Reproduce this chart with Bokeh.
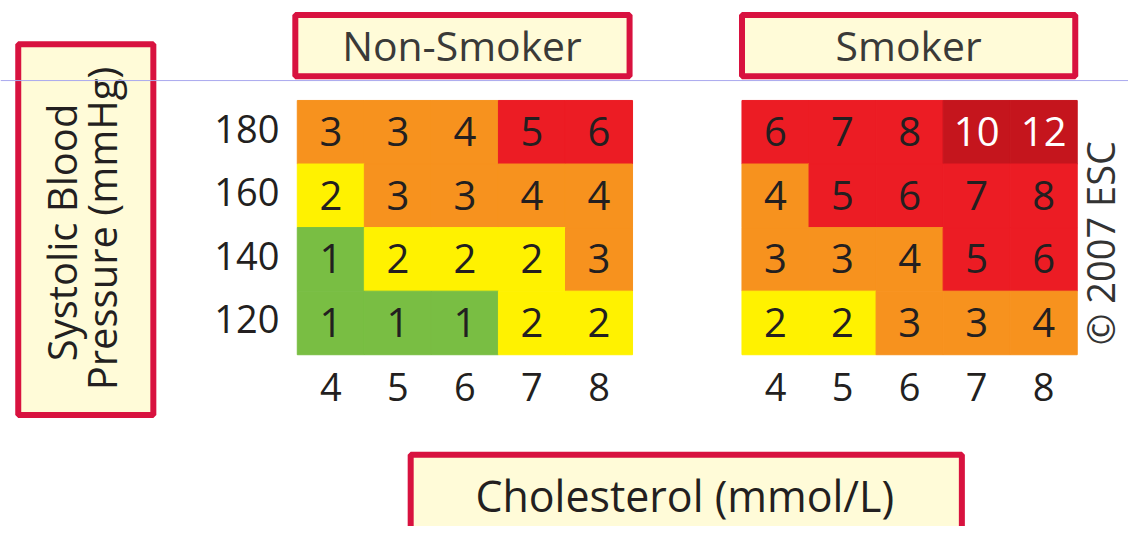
import math
from bokeh.plotting import figure
from bokeh.models import ColumnDataSource, Range1d, Span
from bokeh.core.properties import value
from bokeh.embed import file_html
from bokeh.resources import INLINE

# ---------------- data ----------------
CHOLESTEROL = [4, 5, 6, 7, 8]            # mmol/L (columns)
SBP = [180, 160, 140, 120]               # mmHg (rows, top to bottom)
NON_SMOKER = [[3, 3, 4, 5, 6],
              [2, 3, 3, 4, 4],
              [1, 2, 2, 2, 3],
              [1, 1, 1, 2, 2]]
SMOKER = [[6, 7, 8, 10, 12],
          [4, 5, 6, 7, 8],
          [3, 3, 4, 5, 6],
          [2, 2, 3, 3, 4]]
PANELS = ["Non-Smoker", "Smoker"]
X_TITLE = "Cholesterol (mmol/L)"
Y_TITLE = ["Systolic Blood", "Pressure (mmHg)"]
CREDIT = "\u00a9 2007 ESC"

# ---------------- layout (design units: a 1144 x 542 sheet) ----------------
W, H = 1128, 526
SHEET_W, SHEET_H = 1144, 542
FS = 0.975                # font scale, sheet -> figure
PX_CHOL = 68.0            # sheet pixels per 1 mmol/L
PX_MMHG = 65.5 / 20.0     # sheet pixels per 1 mmHg
X0_PX, Y0_PX = 335.0, 135.75   # sheet position of the (4 mmol/L, 180 mmHg) cell centre
SMOKER_SHIFT = (752 - 301) / PX_CHOL   # gap between the two panels, in mmol/L
BASE_CORR = 0.39          # baseline correction (fraction of font size)


def dx(px):
    return CHOLESTEROL[0] + (px - X0_PX) / PX_CHOL


def dy(py):
    return SBP[0] + (Y0_PX - py) / PX_MMHG


def fsz(px):
    return f"{px * FS:.1f}px"


FONT = value("Open Sans")
CRIMSON = "#D8123F"
CREAM = "#FFFBD8"
INK = "#231F20"


def risk_color(v):
    if v <= 1:
        return "#79BE43"
    if v == 2:
        return "#FFF200"
    if v <= 4:
        return "#F7921E"
    if v <= 8:
        return "#EC1C24"
    return "#C5151D"


p = figure(width=W, height=H,
           x_range=Range1d(dx(0), dx(SHEET_W)), y_range=Range1d(dy(SHEET_H), dy(0)),
           x_axis_type=None, y_axis_type=None,
           output_backend="svg", toolbar_location=None, min_border=0)
p.grid.visible = False
p.outline_line_color = None
p.background_fill_color = "white"
p.border_fill_color = "white"

# ---------------- cells ----------------
CELL_FONT = 41
xs, ys, vals, cols, tcols = [], [], [], [], []
for shift, table in [(0.0, NON_SMOKER), (SMOKER_SHIFT, SMOKER)]:
    for i, s in enumerate(SBP):
        for j, c in enumerate(CHOLESTEROL):
            v = table[i][j]
            xs.append(c + shift)
            ys.append(s)
            vals.append(str(v))
            cols.append(risk_color(v))
            tcols.append("white" if v >= 10 else INK)
text_dy = (15.5 - BASE_CORR * CELL_FONT) / PX_MMHG
cells = ColumnDataSource(dict(x=xs, y=ys, ty=[y - text_dy for y in ys],
                              v=vals, color=cols, tcolor=tcols))
p.rect(x="x", y="y", width=1, height=20, fill_color="color", line_color="color",
       line_width=1, source=cells)
p.text(x="x", y="ty", text="v", text_color="tcolor", text_font=FONT,
       text_font_size=fsz(CELL_FONT), text_align="center", text_baseline="alphabetic",
       source=cells)

# ---------------- tick labels ----------------
TICK_FONT = 39
tick_dy = (11.5 - BASE_CORR * TICK_FONT) / PX_MMHG
p.text(x=[dx(283)] * len(SBP), y=[s - tick_dy for s in SBP],
       text=[str(s) for s in SBP], text_font=FONT, text_font_size=fsz(TICK_FONT),
       text_color=INK, text_align="right", text_baseline="alphabetic")
bx = CHOLESTEROL + [c + SMOKER_SHIFT for c in CHOLESTEROL]
p.text(x=bx, y=[dy(413 - BASE_CORR * TICK_FONT)] * len(bx),
       text=[str(c) for c in CHOLESTEROL] * 2,
       text_font=FONT, text_font_size=fsz(TICK_FONT), text_color=INK,
       text_align="center", text_baseline="alphabetic")

# ---------------- panel title boxes ----------------
left_edge = CHOLESTEROL[0] - 0.5
right_edge = CHOLESTEROL[-1] + 0.5
box_l = [left_edge - 2 / PX_CHOL, left_edge + SMOKER_SHIFT]
box_r = [right_edge - 3 / PX_CHOL, right_edge + SMOKER_SHIFT - 2 / PX_CHOL]
p.quad(left=box_l, right=box_r, top=[dy(15)] * 2, bottom=[dy(78)] * 2,
       fill_color=CREAM, line_color=CRIMSON, line_width=6)
PANEL_FONT = 42
p.text(x=[dx(468), dx(921)], y=[dy(62 - BASE_CORR * PANEL_FONT)] * 2, text=PANELS,
       text_font=FONT, text_font_size=fsz(PANEL_FONT), text_color="#3A3A38",
       text_align="center", text_baseline="alphabetic")

# ---------------- y-axis title box ----------------
p.quad(left=[dx(18)], right=[dx(155)], top=[dy(45)], bottom=[dy(427)],
       fill_color=CREAM, line_color=CRIMSON, line_width=6)
YT_FONT = 41
p.text(x=[dx(78 - BASE_CORR * YT_FONT), dx(118 - BASE_CORR * YT_FONT)],
       y=[dy(239), dy(235)], text=Y_TITLE, angle=math.pi / 2,
       text_font=FONT, text_font_size=fsz(YT_FONT), text_color=INK,
       text_align="center", text_baseline="alphabetic")

# ---------------- x-axis title box ----------------
p.quad(left=[dx(416)], right=[dx(975)], top=[dy(468)], bottom=[dy(590)],
       fill_color=CREAM, line_color=CRIMSON, line_width=6)
XT_FONT = 44
p.text(x=[dx(694)], y=[dy(527 - BASE_CORR * XT_FONT)], text=[X_TITLE], text_font=FONT,
       text_font_size=fsz(XT_FONT), text_color=INK, text_align="center",
       text_baseline="alphabetic")

# ---------------- credit ----------------
CR_FONT = 39
p.text(x=[dx(1130 - BASE_CORR * CR_FONT)], y=[dy(250)], text=[CREDIT], angle=math.pi / 2,
       text_font=FONT, text_font_size=fsz(CR_FONT), text_color="#333333",
       text_align="center", text_baseline="alphabetic")

# ---------------- thin guide line ----------------
p.add_layout(Span(location=dy(82.5), dimension="width", line_color="#A9A8EE",
                  line_width=1))

open("out.html", "w").write(file_html(p, INLINE))
